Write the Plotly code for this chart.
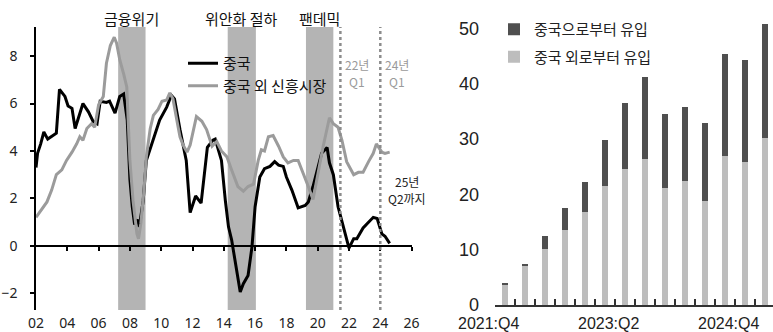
import plotly.graph_objects as go

# ---------------- left panel: credit growth, China vs other EMs ----------------
china_year = [2002.0, 2002.1, 2002.3, 2002.5, 2002.75, 2003.0, 2003.3, 2003.5, 2003.85, 2004.05,
              2004.3, 2004.5, 2004.75, 2005.0, 2005.35, 2005.65, 2005.9, 2006.1, 2006.5, 2006.7,
              2007.05, 2007.35, 2007.6, 2007.83, 2008.0, 2008.15, 2008.3, 2008.5, 2008.6, 2008.85,
              2009.05, 2009.5, 2009.9, 2010.35, 2010.65, 2010.85, 2011.2, 2011.6, 2011.85, 2012.2,
              2012.55, 2012.95, 2013.3, 2013.45, 2013.85, 2014.1, 2014.3, 2014.5, 2014.75, 2015.05,
              2015.25, 2015.55, 2015.8, 2016.0, 2016.3, 2016.6, 2016.95, 2017.25, 2017.5, 2017.8,
              2018.0, 2018.35, 2018.75, 2019.2, 2019.4, 2019.7, 2020.25, 2020.6, 2020.75, 2021.0,
              2021.3, 2021.65, 2022.0, 2022.3, 2022.5, 2022.9, 2023.3, 2023.55, 2023.8, 2024.1,
              2024.3, 2024.6]
china_val = [3.3, 3.9, 4.3, 4.8, 4.5, 4.6, 4.75, 6.6, 6.3, 5.9,
             5.8, 4.95, 5.5, 6.0, 5.65, 5.25, 5.15, 6.1, 6.05, 6.1,
             5.6, 6.3, 6.4, 5.3, 2.8, 1.65, 0.9, 1.1, 0.8, 1.9,
             3.6, 4.45, 5.3, 5.85, 6.35, 6.2, 4.9, 3.6, 1.4, 2.1,
             1.8, 4.15, 4.45, 4.5, 3.6, 1.9, 0.8, 0.25, -0.75, -1.95,
             -1.6, -1.25, -0.05, 1.65, 2.9, 3.25, 3.35, 3.55, 3.4, 3.35,
             2.9, 2.35, 1.6, 1.7, 1.85, 2.5, 3.9, 4.15, 3.5, 3.0,
             1.65, 0.8, -0.1, 0.3, 0.3, 0.75, 1.05, 1.2, 1.15, 0.5,
             0.4, 0.1]

em_year = [2002.0, 2002.35, 2002.7, 2003.0, 2003.3, 2003.65, 2003.95, 2004.3, 2004.6, 2004.8,
           2005.0, 2005.25, 2005.55, 2005.75, 2006.0, 2006.3, 2006.5, 2006.75, 2007.0, 2007.15,
           2007.35, 2007.6, 2007.8, 2008.0, 2008.2, 2008.45, 2008.55, 2008.7, 2008.9, 2009.05,
           2009.3, 2009.5, 2009.8, 2010.05, 2010.35, 2010.55, 2010.75, 2011.0, 2011.2, 2011.4,
           2011.65, 2011.85, 2012.25, 2012.6, 2012.9, 2013.25, 2013.55, 2013.85, 2014.2, 2014.5,
           2014.9, 2015.25, 2015.55, 2015.9, 2016.2, 2016.4, 2016.6, 2016.85, 2017.15, 2017.5,
           2017.8, 2018.1, 2018.45, 2018.75, 2019.1, 2019.4, 2019.7, 2020.05, 2020.35, 2020.75,
           2021.0, 2021.3, 2021.55, 2021.85, 2022.3, 2022.6, 2022.9, 2023.25, 2023.55, 2023.75,
           2024.1, 2024.3, 2024.6]
em_val = [1.2, 1.5, 1.85, 2.35, 3.0, 3.2, 3.6, 3.95, 4.3, 4.6,
          4.45, 4.95, 5.15, 5.0, 5.95, 6.3, 7.7, 8.45, 8.8, 8.55,
          7.85, 7.25, 6.7, 3.6, 1.9, 0.5, 0.3, 0.95, 2.35, 3.75,
          4.95, 5.5, 5.75, 6.1, 6.15, 6.45, 6.2, 5.3, 4.6, 4.25,
          3.95, 4.25, 5.45, 5.25, 4.9, 4.2, 4.4, 4.0, 3.75, 3.2,
          2.5, 2.3, 2.5, 2.6, 3.6, 4.05, 4.0, 4.6, 4.65, 4.2,
          3.75, 3.5, 3.6, 3.6, 3.05, 2.5, 1.95, 3.2, 4.2, 5.4,
          5.15, 5.0, 4.45, 3.55, 3.0, 3.1, 3.1, 3.55, 3.9, 4.3,
          3.95, 3.9, 3.95]

# shaded episodes: (start, end, label)
episodes = [(2007.25, 2009.0, "금융위기"),
            (2014.25, 2016.05, "위안화 절하"),
            (2019.25, 2021.0, "팬데믹")]
# dotted reference dates and their two-line captions
ref_dates = [2021.45, 2024.0]
ref_labels = [("22년", "Q1"), ("24년", "Q1")]
end_note = ("25년", "Q2까지")

x_ticks = list(range(2002, 2027, 2))
x_ticktext = [f"{v % 100:02d}" for v in x_ticks]
y_ticks = [-2, 0, 2, 4, 6, 8]

# ---------------- right panel: stacked inflows ----------------
quarters = ["2021:Q4", "2022:Q1", "2022:Q2", "2022:Q3", "2022:Q4", "2023:Q1", "2023:Q2",
            "2023:Q3", "2023:Q4", "2024:Q1", "2024:Q2", "2024:Q3", "2024:Q4", "2025:Q1"]
from_outside = [3.6, 7.0, 10.1, 13.5, 16.9, 21.5, 24.6, 26.4, 21.1, 22.5, 18.8, 26.9, 25.8, 30.2]
from_china = [0.4, 0.5, 2.4, 4.0, 5.3, 8.4, 12.0, 14.9, 13.5, 13.4, 14.1, 18.5, 18.5, 20.7]
shown_quarters = ["2021:Q4", "2023:Q2", "2024:Q4"]
bar_y_ticks = [0, 10, 20, 30, 40, 50]

W, H = 773, 332
KR = "Noto Sans CJK KR"
SHADE = "#b4b4b4"
GREY_LINE = "#9b9b9b"

# left panel geometry (paper fractions)
lx0, lx1 = 36 / W, 411.6 / W
ly0, ly1 = (H - 310) / H, (H - 27) / H
y_lo, y_hi = -2.71, 9.23
zero_pos = ly0 + (0 - y_lo) / (y_hi - y_lo) * (ly1 - ly0)

fig = go.Figure()

fig.add_trace(go.Scatter(x=china_year, y=china_val, mode="lines", name="중국",
                         line=dict(color="#000000", width=3), xaxis="x", yaxis="y",
                         legend="legend"))
fig.add_trace(go.Scatter(x=em_year, y=em_val, mode="lines", name="중국 외 신흥시장",
                         line=dict(color=GREY_LINE, width=3), xaxis="x", yaxis="y",
                         legend="legend"))
# carrier for the zero-line axis
fig.add_trace(go.Scatter(x=[x_ticks[0]], y=[0], mode="markers", marker=dict(opacity=0),
                         showlegend=False, hoverinfo="skip", xaxis="x2", yaxis="y"))

fig.add_trace(go.Bar(x=quarters, y=from_outside, name="중국 외로부터 유입",
                     marker=dict(color="#bdbdbd", line=dict(width=0)), width=0.34,
                     xaxis="x3", yaxis="y3", legend="legend2", legendgroup="outside",
                     legendrank=2))
fig.add_trace(go.Bar(x=quarters, y=from_china, name="중국으로부터 유입",
                     marker=dict(color="#4f4f4f", line=dict(width=0)), width=0.34,
                     xaxis="x3", yaxis="y3", legend="legend2", legendgroup="china",
                     legendrank=1))

shapes = []
annotations = []


def two_lines(lines, x, xref, xshift, y_top_px, color, gap=17):
    for i, txt in enumerate(lines):
        annotations.append(dict(text=txt, x=x, xref=xref, xshift=xshift,
                                y=(H - (y_top_px + i * gap)) / H, yref="paper",
                                showarrow=False, xanchor="center", yanchor="middle",
                                font=dict(family=KR, size=12, color=color)))


for start, end, label in episodes:
    shapes.append(dict(type="rect", xref="x", yref="y domain", x0=start, x1=end, y0=0, y1=1,
                       fillcolor=SHADE, line=dict(width=0), layer="below"))
    annotations.append(dict(text=label, x=(start + end) / 2, xref="x", y=(H - 18) / H,
                            yref="paper", showarrow=False, xanchor="center", yanchor="middle",
                            font=dict(family=KR, size=15, color="#111111")))
for d, lab in zip(ref_dates, ref_labels):
    shapes.append(dict(type="line", xref="x", yref="y domain", x0=d, x1=d, y0=0, y1=1,
                       line=dict(color="#8c8c8c", width=2.5, dash="dot"), layer="above"))
    two_lines(lab, d, "x", 17, 64.5, "#9a9a9a")
two_lines(end_note, 407 / W, "paper", 0, 181.5, "#222222")

for q in shown_quarters:
    annotations.append(dict(text=q, x=q, xref="x3", xshift=-17, y=(H - 323) / H, yref="paper",
                            showarrow=False, xanchor="center", yanchor="middle",
                            font=dict(family="Liberation Sans", size=16, color="#222222")))

fig.update_layout(
    width=W, height=H, margin=dict(l=0, r=0, t=0, b=0, autoexpand=False),
    paper_bgcolor="white", plot_bgcolor="white",
    barmode="stack", showlegend=True,
    shapes=shapes, annotations=annotations,
    xaxis=dict(domain=[lx0, lx1], range=[2002, 2026], anchor="y", automargin=False,
               tickvals=x_ticks, ticktext=x_ticktext, ticks="", showline=False,
               showgrid=False, zeroline=False, ticklabelstandoff=3,
               tickfont=dict(family="Noto Sans", size=14, color="#222222")),
    xaxis2=dict(overlaying="x", range=[2002, 2026], anchor="free", position=zero_pos,
                automargin=False,
                tickvals=x_ticks[1:], showticklabels=False, ticks="outside", ticklen=4,
                tickwidth=1.5, tickcolor="#000000", showline=True, linecolor="#000000",
                linewidth=1.5, showgrid=False, zeroline=False),
    yaxis=dict(domain=[ly0, ly1], range=[y_lo, y_hi], anchor="x", tickvals=y_ticks,
               automargin=False,
               ticks="outside", ticklen=4, tickwidth=1.5, tickcolor="#000000",
               showline=True, linecolor="#000000", linewidth=1.5, showgrid=False,
               zeroline=False, ticklabelstandoff=10,
               tickfont=dict(family="Noto Sans", size=14, color="#222222")),
    xaxis3=dict(domain=[495 / W, 1], range=[-0.5, 13.4], anchor="y3", type="category",
                automargin=False,
                tickson="boundaries", ticks="inside", ticklen=6, tickwidth=1.5,
                tickcolor="#333333", showticklabels=False, showline=True,
                linecolor="#333333", linewidth=1.5, showgrid=False, zeroline=False),
    yaxis3=dict(domain=[(H - 305) / H, (H - 12) / H], range=[0, 53], anchor="x3",
                automargin=False,
                tickvals=bar_y_ticks, ticks="", showline=False, showgrid=False,
                zeroline=False, ticklabelstandoff=15,
                tickfont=dict(family="Liberation Sans", size=18, color="#222222")),
    legend=dict(x=183 / W, y=(H - 47) / H, xanchor="left", yanchor="top",
                bgcolor="rgba(0,0,0,0)", traceorder="normal",
                font=dict(family=KR, size=15, color="#111111")),
    legend2=dict(x=494 / W, y=(H - 13) / H, xanchor="left", yanchor="top",
                 bgcolor="rgba(0,0,0,0)", traceorder="grouped", tracegroupgap=5,
                 font=dict(family=KR, size=15, color="#222222")),
)

fig.write_html("out.html")
